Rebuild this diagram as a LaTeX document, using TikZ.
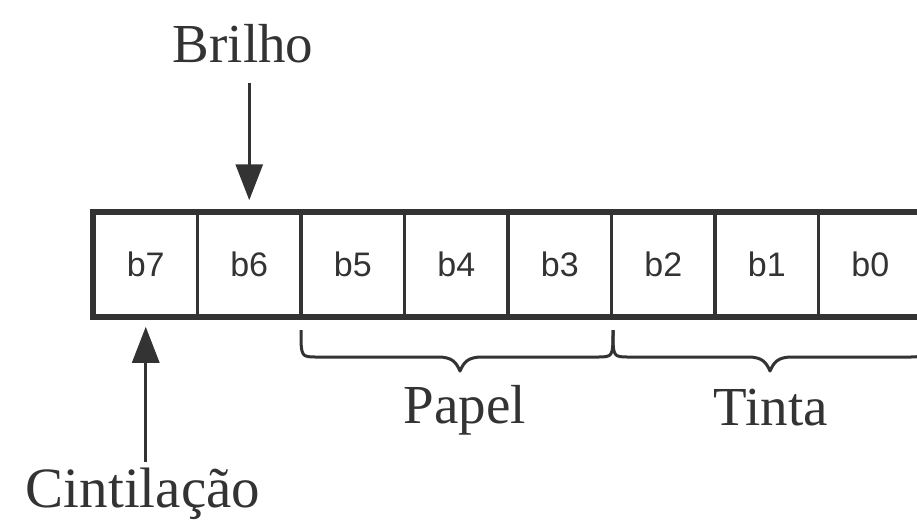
\documentclass[tikz,border=0pt]{standalone}
\usepackage{fontspec}
\setmainfont{Liberation Serif}
\newfontfamily\cellfont{Liberation Sans}
\usetikzlibrary{arrows.meta}
\definecolor{ink}{HTML}{333333}
\tikzset{
  cell/.style={draw=ink, line width=3.5pt, minimum width=103.5pt, minimum height=103pt, inner sep=0pt, text=ink, font=\cellfont\fontsize{34}{34}\selectfont},
  lbl/.style={anchor=base, text=ink, font=\fontsize{55}{55}\selectfont, inner sep=0pt},
  arr/.style={draw=ink, line width=3pt, -{Triangle[length=36pt,width=27pt]}},
  brc/.style={draw=ink, line width=3pt, line join=round}
}
\begin{document}
\begin{tikzpicture}[x=1pt,y=-1pt]
\useasboundingbox (0,0) rectangle (917,519);
\clip (0,0) rectangle (917,519);
\fill[white] (0,0) rectangle (917,519);
% cells
\foreach \i/\t in {0/b7,1/b6,2/b5,3/b4,4/b3,5/b2,6/b1,7/b0}{
  \node[cell] (c\i) at ({94+103.5*\i+51.75},264.5) {\t};
}
\draw[ink, line width=4.5pt] (c0.north west) rectangle (c7.south east);
% labels
\node[lbl] (brilho) at (243,63) {Brilho};
\node[lbl, font=\fontsize{57}{57}\selectfont] (cint) at (143,507) {Cintilação};
\node[lbl] (papel) at (465,423) {Papel};
\node[lbl] (tinta) at (771,425) {Tinta};
% arrows
\coordinate (bs) at (c1.north |- 0,83);
\draw[arr, shorten >=11pt] (bs) -- (c1.north);
\coordinate (cs) at (c0.south |- 0,462);
\draw[arr, shorten >=9pt] (cs) -- (c0.south);
% braces
\newcommand\mybrace[3]{%
  \draw[brc] (#1,330) .. controls (#1,357) and (#1,357) .. ({#1+16},357)
    -- ({#2-22},357) .. controls ({#2-8},357) and ({#2-4},362) .. (#2,371)
    .. controls ({#2+4},362) and ({#2+8},357) .. ({#2+22},357)
    -- ({#3-16},357) .. controls (#3,357) and (#3,357) .. (#3,330);}
\mybrace{301}{460}{613}
\mybrace{613}{770}{925}
\end{tikzpicture}
\end{document}
